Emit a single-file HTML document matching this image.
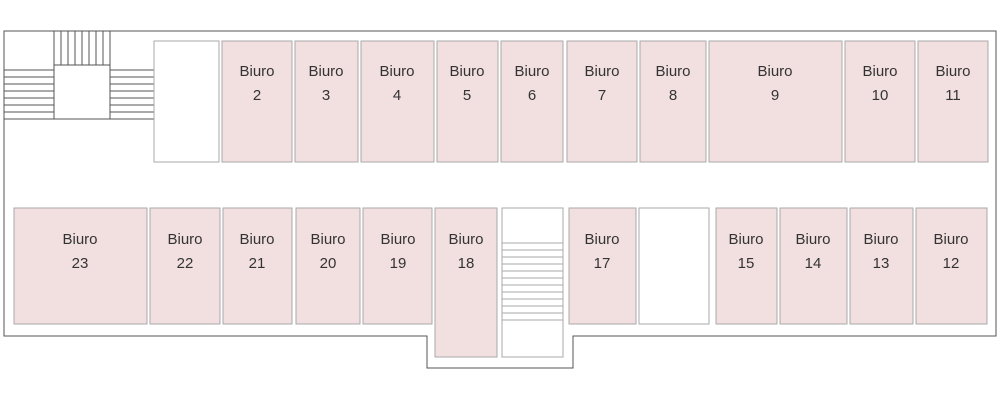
<!DOCTYPE html><html><head><style>body{margin:0;background:#fff}</style></head><body>
<svg width="1000" height="400" xmlns="http://www.w3.org/2000/svg" font-family="Liberation Sans, sans-serif" font-size="15" fill="#333">
<polygon points="4,31 996,31 996,336 573,336 573,368 427,368 427,336 4,336" fill="#fff" stroke="#555" stroke-width="1"/>
<g stroke="#555" fill="none">
<rect x="54" y="65" width="56" height="54" fill="#fff"/>
<path d="M54 31V65M61 31V65M68 31V65M75 31V65M82 31V65M89 31V65M96 31V65M103 31V65M110 31V65"/>
<path d="M4 70H54M4 77H54M4 84H54M4 91H54M4 98H54M4 105H54M4 112H54M4 119H54"/>
<path d="M110 70H154M110 77H154M110 84H154M110 91H154M110 98H154M110 105H154M110 112H154M110 119H154"/>
</g>
<g stroke="#aaa" fill="#f2dfe0">
<rect x="154" y="41" width="65" height="121" fill="#fff"/>
<rect x="222" y="41" width="70" height="121"/><rect x="295" y="41" width="63" height="121"/>
<rect x="361" y="41" width="73" height="121"/><rect x="437" y="41" width="61" height="121"/>
<rect x="501" y="41" width="62" height="121"/><rect x="567" y="41" width="70" height="121"/>
<rect x="640" y="41" width="66" height="121"/><rect x="709" y="41" width="133" height="121"/>
<rect x="845" y="41" width="70" height="121"/><rect x="918" y="41" width="70" height="121"/>
<rect x="14" y="208" width="133" height="116"/><rect x="150" y="208" width="70" height="116"/>
<rect x="223" y="208" width="69" height="116"/><rect x="296" y="208" width="64" height="116"/>
<rect x="363" y="208" width="69" height="116"/><rect x="435" y="208" width="62" height="149"/>
<rect x="502" y="208" width="61" height="149" fill="#fff"/>
<rect x="569" y="208" width="67" height="116"/><rect x="639" y="208" width="70" height="116" fill="#fff"/>
<rect x="716" y="208" width="61" height="116"/><rect x="780" y="208" width="67" height="116"/>
<rect x="850" y="208" width="63" height="116"/><rect x="916" y="208" width="71" height="116"/>
<path fill="none" d="M502 243H563M502 250H563M502 257H563M502 264H563M502 271H563M502 278H563M502 285H563M502 292H563M502 299H563M502 306H563M502 313H563M502 320H563"/>
</g>
<g text-anchor="middle" fill="#333">
<text x="257" y="76">Biuro</text><text x="257" y="100">2</text>
<text x="326" y="76">Biuro</text><text x="326" y="100">3</text>
<text x="397" y="76">Biuro</text><text x="397" y="100">4</text>
<text x="467" y="76">Biuro</text><text x="467" y="100">5</text>
<text x="532" y="76">Biuro</text><text x="532" y="100">6</text>
<text x="602" y="76">Biuro</text><text x="602" y="100">7</text>
<text x="673" y="76">Biuro</text><text x="673" y="100">8</text>
<text x="775" y="76">Biuro</text><text x="775" y="100">9</text>
<text x="880" y="76">Biuro</text><text x="880" y="100">10</text>
<text x="953" y="76">Biuro</text><text x="953" y="100">11</text>
<text x="80" y="244">Biuro</text><text x="80" y="268">23</text>
<text x="185" y="244">Biuro</text><text x="185" y="268">22</text>
<text x="257" y="244">Biuro</text><text x="257" y="268">21</text>
<text x="328" y="244">Biuro</text><text x="328" y="268">20</text>
<text x="398" y="244">Biuro</text><text x="398" y="268">19</text>
<text x="466" y="244">Biuro</text><text x="466" y="268">18</text>
<text x="602" y="244">Biuro</text><text x="602" y="268">17</text>
<text x="746" y="244">Biuro</text><text x="746" y="268">15</text>
<text x="813" y="244">Biuro</text><text x="813" y="268">14</text>
<text x="881" y="244">Biuro</text><text x="881" y="268">13</text>
<text x="951" y="244">Biuro</text><text x="951" y="268">12</text>
</g>
</svg></body></html>
